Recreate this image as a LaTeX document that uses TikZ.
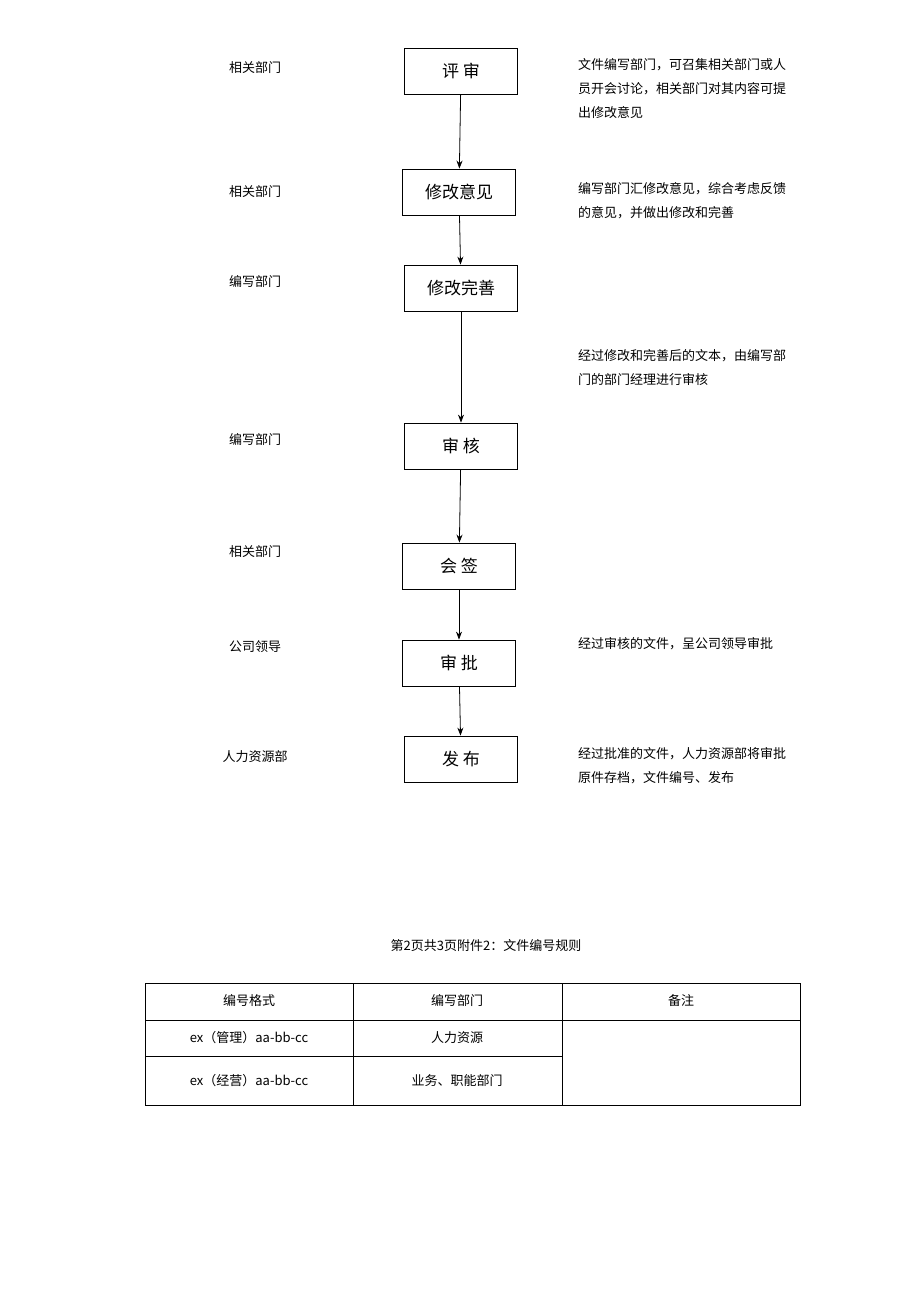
\documentclass[tikz,border=0pt]{standalone}
\usepackage{fontspec}
\setmainfont{Noto Sans CJK SC}
\usetikzlibrary{arrows.meta}
\tikzset{
   stepbox/.style = { draw, thick, minimum width=113pt, minimum height=46pt, font=\fontsize{17}{20}\selectfont, inner sep=0pt },
       lab/.style = { font=\fontsize{13}{16}\selectfont, anchor=center },
      note/.style = { font=\fontsize{13}{24}\selectfont, anchor=north west, align=left, inner sep=0pt },
      cell/.style = { font=\fontsize{13}{16}\selectfont, anchor=center },
     arrow/.style = { thick, -{Stealth[length=8pt,width=6pt]} },
}
\begin{document}
\begin{tikzpicture}[x=1pt,y=-1pt]
  \useasboundingbox (0,0) rectangle (920,1301);
  % flow steps
  \node [stepbox] (s1) at (461,71)  {评\ 审};
  \node [stepbox] (s2) at (459,192) {修改意见};
  \node [stepbox] (s3) at (461,288) {修改完善};
  \node [stepbox] (s4) at (461,446) {审\ 核};
  \node [stepbox] (s5) at (459,566) {会\ 签};
  \node [stepbox] (s6) at (459,663) {审\ 批};
  \node [stepbox] (s7) at (461,759) {发\ 布};
  \foreach \i/\j in {1/2,2/3,3/4,4/5,5/6,6/7} {
    \draw [arrow] (s\i) -- (s\j);
  }
  % departments
  \node [lab] (d1) at (255,68)  {相关部门};
  \node [lab] (d2) at (255,192) {相关部门};
  \node [lab] (d3) at (255,282) {编写部门};
  \node [lab] (d4) at (255,440) {编写部门};
  \node [lab] (d5) at (255,552) {相关部门};
  \node [lab] (d6) at (255,647) {公司领导};
  \node [lab] (d7) at (255,757) {人力资源部};
  % notes
  \node [note] (n1) at (578,58)  {文件编写部门，可召集相关部门或人\\员开会讨论，相关部门对其内容可提\\出修改意见};
  \node [note] (n2) at (578,182) {编写部门汇修改意见，综合考虑反馈\\的意见，并做出修改和完善};
  \node [note] (n3) at (578,349) {经过修改和完善后的文本，由编写部\\门的部门经理进行审核};
  \node [note] (n4) at (578,637) {经过审核的文件，呈公司领导审批};
  \node [note] (n5) at (578,747) {经过批准的文件，人力资源部将审批\\原件存档，文件编号、发布};
  % table
  \node [cell] (title) at (486,946) {第2页共3页附件2：文件编号规则};
  \draw (145,983) rectangle (800,1105);
  \draw (145,1020) -- (800,1020);
  \draw (145,1056) -- (562,1056);
  \draw (353,983) -- (353,1105);
  \draw (562,983) -- (562,1105);
  \node [cell] (h1) at (249,1001) {编号格式};
  \node [cell] (h2) at (457,1001) {编写部门};
  \node [cell] (h3) at (681,1001) {备注};
  \node [cell] (c1) at (249,1038) {ex（管理）aa-bb-cc};
  \node [cell] (c2) at (457,1038) {人力资源};
  \node [cell] (c3) at (249,1081) {ex（经营）aa-bb-cc};
  \node [cell] (c4) at (457,1081) {业务、职能部门};
\end{tikzpicture}
\end{document}
